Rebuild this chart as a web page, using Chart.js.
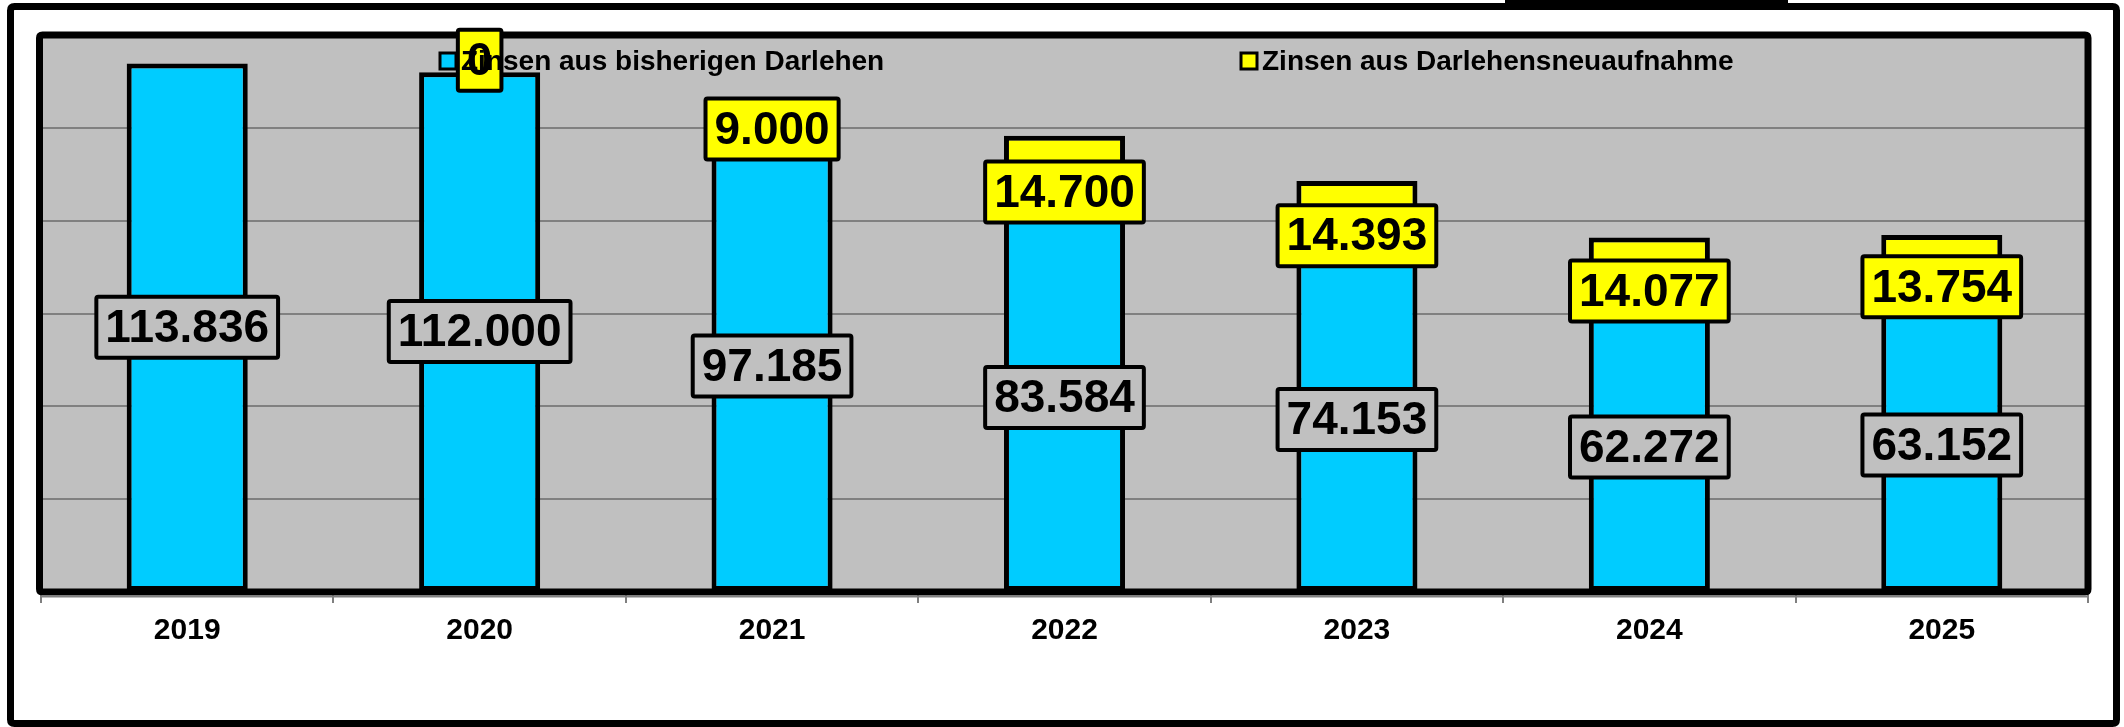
<!DOCTYPE html>
<html>
<head>
<meta charset="utf-8">
<title>Zinsen</title>
<script src="https://cdn.jsdelivr.net/npm/chart.js@4.4.1/dist/chart.umd.min.js"></script>
<style>
  html, body { margin: 0; padding: 0; background: #fff; }
  canvas { display: block; }
</style>
</head>
<body>
<canvas id="myChart" width="2124" height="727"></canvas>
<script>
// Daten aus dem Diagramm
const jahre = ['2019', '2020', '2021', '2022', '2023', '2024', '2025'];
const zinsenBisher = [113836, 112000, 97185, 83584, 74153, 62272, 63152];
const zinsenNeu = [null, 0, 9000, 14700, 14393, 14077, 13754];
const serienNamen = ['Zinsen aus bisherigen Darlehen', 'Zinsen aus Darlehensneuaufnahme'];
const serienFarben = ['#00CCFF', '#FFFF00'];
const yMax = 120000;
const ySchritt = 20000;

const schrift = '"Liberation Sans", Arial, sans-serif';

// 12345 -> "12.345"
function formatZahl(n) {
    return String(n).replace(/\B(?=(\d{3})+(?!\d))/g, '.');
}

function rundRect(ctx, x, y, w, h, r) {
    ctx.beginPath();
    ctx.moveTo(x + r, y);
    ctx.lineTo(x + w - r, y);
    ctx.quadraticCurveTo(x + w, y, x + w, y + r);
    ctx.lineTo(x + w, y + h - r);
    ctx.quadraticCurveTo(x + w, y + h, x + w - r, y + h);
    ctx.lineTo(x + r, y + h);
    ctx.quadraticCurveTo(x, y + h, x, y + h - r);
    ctx.lineTo(x, y + r);
    ctx.quadraticCurveTo(x, y, x + r, y);
    ctx.closePath();
}

// Hintergrund, Rahmen, Beschriftungen und Legende
const rahmenPlugin = {
    id: 'rahmen',
    beforeDraw(chart) {
        const ctx = chart.ctx, a = chart.chartArea;
        ctx.save();
        ctx.fillStyle = '#fff';
        ctx.fillRect(0, 0, chart.width, chart.height);
        ctx.strokeStyle = '#000';
        ctx.lineWidth = 7;
        ctx.lineJoin = 'round';
        rundRect(ctx, 10.5, 6.5, 2106, 717, 4);
        ctx.stroke();
        ctx.fillStyle = '#000';
        ctx.fillRect(1505, 0, 283, 10);
        ctx.fillStyle = '#C0C0C0';
        ctx.fillRect(a.left, a.top, a.right - a.left, a.bottom - a.top);
        ctx.restore();
    },
    afterDatasetsDraw(chart) {
        const ctx = chart.ctx, a = chart.chartArea;
        ctx.save();
        // Rahmen der Zeichenflaeche
        ctx.strokeStyle = '#000';
        ctx.lineWidth = 7;
        ctx.lineJoin = 'round';
        rundRect(ctx, a.left - 1.5, a.top, a.right - a.left + 1.5, a.bottom - a.top, 3);
        ctx.stroke();
        // graue Achsenlinie unter dem Rahmen
        ctx.strokeStyle = '#808080';
        ctx.lineWidth = 2;
        ctx.beginPath();
        ctx.moveTo(a.left, a.bottom + 4.5);
        ctx.lineTo(a.right, a.bottom + 4.5);
        ctx.stroke();

        // Datenbeschriftungen
        ctx.font = 'bold 46px ' + schrift;
        ctx.textAlign = 'center';
        ctx.textBaseline = 'middle';
        chart.data.datasets.forEach(function(ds, i) {
            const meta = chart.getDatasetMeta(i);
            meta.data.forEach(function(bar, j) {
                const wert = ds.data[j];
                if (wert === null || wert === undefined) return;
                const text = formatZahl(wert);
                const tw = ctx.measureText(text).width;
                let mitte;
                if (i === 0) {
                    mitte = (bar.y + bar.base) / 2;
                } else {
                    mitte = bar.base - 12;
                }
                const w = tw + 18, h = 61;
                ctx.fillStyle = i === 0 ? '#C0C0C0' : '#FFFF00';
                rundRect(ctx, bar.x - w / 2, mitte - h / 2, w, h, 2);
                ctx.fill();
                ctx.lineWidth = 4;
                ctx.strokeStyle = '#000';
                ctx.stroke();
                ctx.fillStyle = '#000';
                ctx.fillText(text, bar.x, mitte + 2);
            });
        });
        ctx.restore();
    },
    afterDraw(chart) {
        const ctx = chart.ctx, a = chart.chartArea;
        // Legende liegt in der Zeichenflaeche
        const xs = [a.left + 399, a.left + 1200];
        const ym = 61;
        ctx.save();
        ctx.font = 'bold 28px ' + schrift;
        ctx.textBaseline = 'alphabetic';
        ctx.textAlign = 'left';
        serienNamen.forEach(function(name, i) {
            ctx.fillStyle = serienFarben[i];
            ctx.fillRect(xs[i], ym - 8, 16, 16);
            ctx.lineWidth = 3;
            ctx.strokeStyle = '#000';
            ctx.strokeRect(xs[i], ym - 8, 16, 16);
            ctx.fillStyle = '#000';
            ctx.fillText(name, xs[i] + 21, ym + 9);
        });
        ctx.restore();
    }
};

var grafik = new Chart(document.getElementById('myChart'), {
    type: 'bar',
    data: {
        labels: jahre,
        datasets: [
            {
                label: serienNamen[0],
                data: zinsenBisher,
                backgroundColor: serienFarben[0],
                borderColor: '#000',
                borderWidth: 5,
                borderSkipped: false,
                categoryPercentage: 1,
                barPercentage: 0.414
            },
            {
                label: serienNamen[1],
                data: zinsenNeu,
                backgroundColor: serienFarben[1],
                borderColor: '#000',
                borderWidth: 5,
                borderSkipped: false,
                categoryPercentage: 1,
                barPercentage: 0.414
            }
        ]
    },
    options: {
        responsive: false,
        animation: false,
        devicePixelRatio: 1,
        layout: { padding: { left: 41, right: 36, top: 35, bottom: 0 } },
        plugins: {
            legend: { display: false },
            tooltip: { enabled: false }
        },
        scales: {
            x: {
                stacked: true,
                border: { display: false },
                grid: {
                    drawOnChartArea: false,
                    drawTicks: true,
                    tickLength: 11,
                    color: '#808080',
                    lineWidth: 2
                },
                ticks: {
                    color: '#000',
                    padding: 10,
                    font: { family: schrift, size: 30, weight: 'bold' }
                },
                afterFit: function(scale) { scale.height = 135; }
            },
            y: {
                stacked: true,
                min: 0,
                max: yMax,
                border: { display: false },
                grid: { color: '#808080', lineWidth: 2, drawTicks: false },
                ticks: { display: false, stepSize: ySchritt }
            }
        }
    },
    plugins: [rahmenPlugin]
});
</script>
</body>
</html>
